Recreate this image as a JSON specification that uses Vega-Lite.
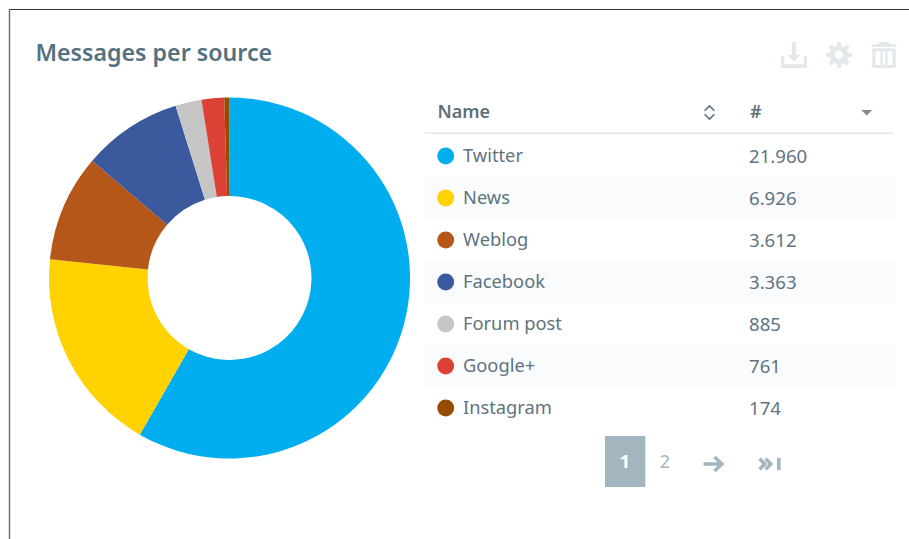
{
  "$schema": "https://vega.github.io/schema/vega-lite/v6.json",
  "width": 909,
  "height": 539,
  "autosize": "none",
  "padding": 0,
  "background": "#ffffff",
  "config": {
    "view": {"stroke": null},
    "font": "Noto Sans",
    "locale": {"number": {"decimal": ",", "thousands": ".", "grouping": [3], "currency": ["", ""]}}
  },
  "title": {"text": "Messages per source", "anchor": "start", "frame": "group", "dx": 35.5, "dy": 66, "offset": 0, "fontSize": 23.2, "fontWeight": 600, "font": "Noto Sans", "color": "#54717f"},
  "data": {
    "values": [
      {"name": "Twitter", "count": 21960},
      {"name": "News", "count": 6926},
      {"name": "Weblog", "count": 3612},
      {"name": "Facebook", "count": 3363},
      {"name": "Forum post", "count": 885},
      {"name": "Google+", "count": 761},
      {"name": "Instagram", "count": 174}
    ]
  },
  "layer": [
    {
      "data": {"values": [{"edge": "top"}]},
      "mark": {"type": "rule", "color": "#3a3a3a", "strokeWidth": 1.2},
      "encoding": {"x": {"value": 9}, "x2": {"value": 909}, "y": {"value": 9.5}}
    },
    {
      "data": {"values": [{"edge": "left"}]},
      "mark": {"type": "rule", "color": "#6a6a6a", "strokeWidth": 1.4},
      "encoding": {"x": {"value": 9.5}, "y": {"value": 9}, "y2": {"value": 539}}
    },
    {
      "transform": [{"filter": {"field": "name", "oneOf": ["News", "Facebook", "Google+"]}}],
      "mark": {"type": "rect", "color": "#f9fbfc"},
      "encoding": {
        "x": {"value": 424},
        "x2": {"value": 895},
        "y": {"field": "name", "type": "nominal", "axis": null, "scale": {"type": "band", "domain": ["Twitter", "News", "Weblog", "Facebook", "Forum post", "Google+", "Instagram"], "range": [135, 429], "paddingInner": 0, "paddingOuter": 0}}
      }
    },
    {
      "mark": {"type": "arc", "innerRadius": 82, "outerRadius": 180.5},
      "encoding": {
        "x": {"value": 229.5},
        "y": {"value": 278},
        "theta": {"field": "count", "type": "quantitative", "stack": true},
        "order": {"field": "count", "type": "quantitative", "sort": "descending"},
        "color": {"field": "name", "type": "nominal", "legend": null, "scale": {"domain": ["Twitter", "News", "Weblog", "Facebook", "Forum post", "Google+", "Instagram"], "range": ["#00aeef", "#ffd200", "#b55718", "#3b5a9e", "#c6c6c6", "#dd4135", "#944c00"]}}
      }
    },
    {
      "mark": {"type": "circle", "size": 285, "opacity": 1},
      "encoding": {
        "x": {"value": 445.7},
        "y": {"field": "name", "type": "nominal", "axis": null},
        "color": {"field": "name", "type": "nominal", "legend": null}
      }
    },
    {
      "mark": {"type": "text", "align": "left", "dy": 0.5, "fontSize": 18.3, "color": "#5f7380"},
      "encoding": {
        "x": {"value": 463},
        "y": {"field": "name", "type": "nominal", "axis": null},
        "text": {"field": "name", "type": "nominal"}
      }
    },
    {
      "mark": {"type": "text", "align": "left", "dy": 0.5, "fontSize": 18.6, "color": "#5f7380"},
      "encoding": {
        "x": {"value": 749},
        "y": {"field": "name", "type": "nominal", "axis": null},
        "text": {"field": "count", "type": "quantitative", "format": ",d"}
      }
    },
    {
      "data": {"values": [{"label": "Name"}]},
      "mark": {"type": "text", "align": "left", "fontSize": 18, "fontWeight": 600, "color": "#5f6f7a"},
      "encoding": {"x": {"value": 437.5}, "y": {"value": 113}, "text": {"field": "label"}}
    },
    {
      "data": {"values": [{"label": "#"}]},
      "mark": {"type": "text", "align": "left", "fontSize": 18, "fontWeight": 600, "color": "#5f6f7a"},
      "encoding": {"x": {"value": 750}, "y": {"value": 113}, "text": {"field": "label"}}
    },
    {
      "data": {"values": [{"part": "header rule"}]},
      "mark": {"type": "rule", "color": "#e3e7ea", "strokeWidth": 1.4},
      "encoding": {"x": {"value": 425}, "x2": {"value": 894}, "y": {"value": 133.3}}
    },
    {
      "data": {"values": [{"icon": "sortable"}]},
      "mark": {"type": "point", "shape": "M-.7 -.25 L0 -.95 L.7 -.25 M-.7 .25 L0 .95 L.7 .25", "size": 196, "filled": false, "stroke": "#5f7380", "strokeWidth": 1.7, "opacity": 1},
      "encoding": {"x": {"value": 709.5}, "y": {"value": 112.5}}
    },
    {
      "data": {"values": [{"icon": "sorted descending"}]},
      "mark": {"type": "point", "shape": "M-1 -.5 L1 -.5 L0 .5 Z", "size": 121, "filled": true, "fill": "#7f8c94", "opacity": 1},
      "encoding": {"x": {"value": 866.7}, "y": {"value": 112.7}}
    },
    {
      "data": {"values": [{"icon": "download"}]},
      "mark": {"type": "point", "shape": "M-1 .1 L-.75 .1 L-.75 .72 L.75 .72 L.75 .1 L1 .1 L1 1 L-1 1 Z M-.17 -1 L.17 -1 L.17 0 L.5 0 L0 .5 L-.5 0 L-.17 0 Z", "size": 676, "filled": true, "fill": "#e3e8eb", "opacity": 1},
      "encoding": {"x": {"value": 794}, "y": {"value": 55}}
    },
    {
      "data": {"values": [{"icon": "settings"}]},
      "mark": {"type": "point", "shape": "M-.174 -.699 L-.156 -.988 L.156 -.988 L.174 -.699 L.371 -.617 L.588 -.809 L.809 -.588 L.617 -.371 L.699 -.174 L.988 -.156 L.988 .156 L.699 .174 L.617 .371 L.809 .588 L.588 .809 L.371 .617 L.174 .699 L.156 .988 L-.156 .988 L-.174 .699 L-.371 .617 L-.588 .809 L-.809 .588 L-.617 .371 L-.699 .174 L-.988 .156 L-.988 -.156 L-.699 -.174 L-.617 -.371 L-.809 -.588 L-.588 -.809 L-.371 -.617 Z M.32 0 A.32 .32 0 1 0 -.32 0 A.32 .32 0 1 0 .32 0 Z", "size": 676, "filled": true, "fill": "#e3e8eb", "opacity": 1},
      "encoding": {"x": {"value": 839}, "y": {"value": 55}}
    },
    {
      "data": {"values": [{"icon": "delete"}]},
      "mark": {"type": "point", "shape": "M-.4 -1 L.4 -1 L.4 -.82 L.95 -.82 L.95 -.62 L-.95 -.62 L-.95 -.82 L-.4 -.82 Z M-.9 -.52 L.9 -.52 L.9 1 L-.9 1 Z M-.65 -.28 L-.65 .76 L-.28 .76 L-.28 -.28 Z M-.1 -.28 L-.1 .76 L.1 .76 L.1 -.28 Z M.28 -.28 L.28 .76 L.65 .76 L.65 -.28 Z", "size": 676, "filled": true, "fill": "#e3e8eb", "opacity": 1},
      "encoding": {"x": {"value": 884}, "y": {"value": 55}}
    },
    {
      "data": {"values": [{"part": "current page"}]},
      "mark": {"type": "rect", "color": "#a3b5bf"},
      "encoding": {"x": {"value": 605}, "x2": {"value": 645.3}, "y": {"value": 436}, "y2": {"value": 487}}
    },
    {
      "data": {"values": [{"label": "1"}]},
      "mark": {"type": "text", "fontSize": 18, "fontWeight": 700, "color": "#ffffff"},
      "encoding": {"x": {"value": 625}, "y": {"value": 463}, "text": {"field": "label"}}
    },
    {
      "data": {"values": [{"label": "2"}]},
      "mark": {"type": "text", "fontSize": 18, "color": "#a3b5bf"},
      "encoding": {"x": {"value": 665}, "y": {"value": 463}, "text": {"field": "label"}}
    },
    {
      "data": {"values": [{"icon": "next page"}]},
      "mark": {"type": "point", "shape": "M-1 0 L.75 0 M.1 -.7 L.85 0 L.1 .7", "size": 400, "filled": false, "stroke": "#a3b5bf", "strokeWidth": 3.5, "opacity": 1},
      "encoding": {"x": {"value": 713.5}, "y": {"value": 464}}
    },
    {
      "data": {"values": [{"icon": "last page"}]},
      "mark": {"type": "point", "shape": "M-.95 -.45 L-.5 0 L-.95 .45 M-.42 -.45 L.03 0 L-.42 .45 M.72 -.55 L.72 .55", "size": 529, "filled": false, "stroke": "#a3b5bf", "strokeWidth": 3.6, "opacity": 1},
      "encoding": {"x": {"value": 770.5}, "y": {"value": 464}}
    }
  ]
}
